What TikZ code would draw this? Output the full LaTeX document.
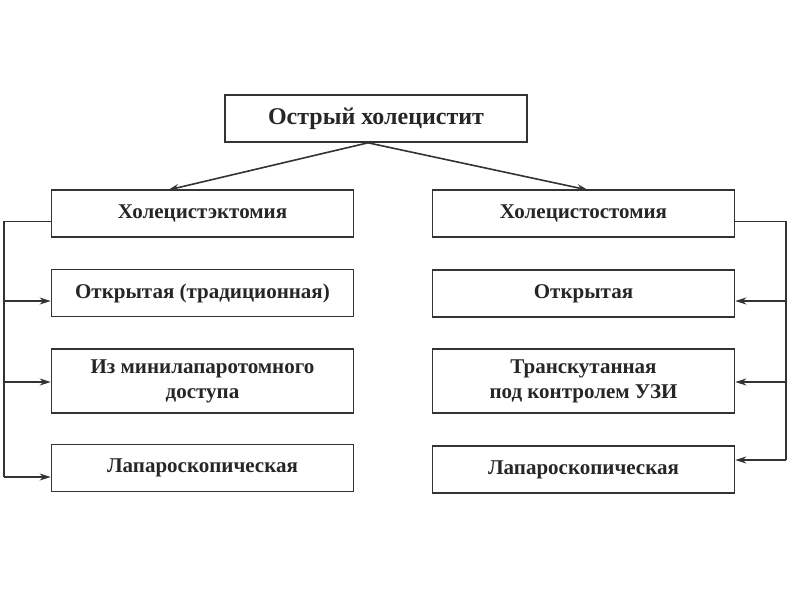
\documentclass[tikz,border=0pt]{standalone}
\usepackage{fontspec}
\setmainfont{Liberation Serif}
\usetikzlibrary{arrows.meta}

\begin{document}
\begin{tikzpicture}[x=1pt,y=-1pt,line width=1.6pt,color=black!80,
    >={Stealth[length=11pt,width=7pt]},
    box/.style={draw,minimum width=302pt,minimum height=47pt,align=center,
        inner sep=0pt,font=\fontsize{21}{25}\selectfont\bfseries,text=black!85}]
    \useasboundingbox (0,0) rectangle (800,600);
    \node[box,font=\fontsize{24}{28}\selectfont\bfseries] at (376,118.5) (acute) {Острый холецистит};
    % left column
    \node[box] at (202.5,213.5) (ectomy) {Холецистэктомия};
    \node[box] at (202.5,293) (open) {Открытая (традиционная)};
    \node[box,minimum height=64pt] at (202.5,381) (mini) {Из минилапаротомного\\доступа};
    \node[box] at (202.5,468) (lapl) {Лапароскопическая};
    % right column
    \node[box] at (583.5,213.5) (stomy) {Холецистостомия};
    \node[box] at (583.5,293.5) (openr) {Открытая};
    \node[box,minimum height=64pt] at (583.5,381) (trans) {Транскутанная\\под контролем УЗИ};
    \node[box] at (583.5,469.5) (lapr) {Лапароскопическая};
    \draw[->] ([xshift=-8pt]acute.south) -- (168,190);
    \draw[->] ([xshift=-8pt]acute.south) -- (588,190);
    % left bus
    \coordinate (l2) at (4,301);
    \coordinate (l3) at (4,382);
    \coordinate (l4) at (4,477);
    \draw ([yshift=-8pt]ectomy.west) -| (l4);
    \draw[->] (l2) -- (l2 -| open.west);
    \draw[->] (l3) -- (l3 -| mini.west);
    \draw[->] (l4) -- (l4 -| lapl.west);
    % right bus
    \coordinate (r2) at (786,301);
    \coordinate (r3) at (786,382);
    \coordinate (r4) at (786,460);
    \draw ([yshift=-8pt]stomy.east) -| (r4);
    \draw[->] (r2) -- (r2 -| openr.east);
    \draw[->] (r3) -- (r3 -| trans.east);
    \draw[->] (r4) -- (r4 -| lapr.east);
\end{tikzpicture}
\end{document}
